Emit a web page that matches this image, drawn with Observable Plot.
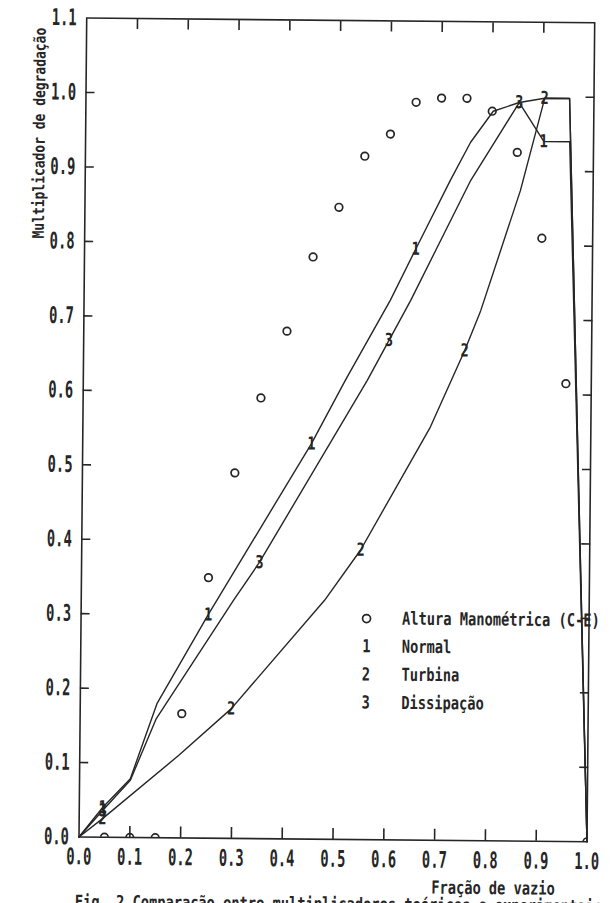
<!DOCTYPE html>
<html><head><meta charset="utf-8">
<script src="https://cdn.jsdelivr.net/npm/d3@7"></script>
<script src="https://cdn.jsdelivr.net/npm/@observablehq/plot@0.6"></script>
<style>
html,body{margin:0;padding:0;background:#fff;overflow:hidden;}
#chart{width:615px;height:903px;overflow:hidden;background:#fff;}
</style></head><body><div id="chart"></div>
<script>
// ---------- data ----------
const xTicks = [0.0, 0.1, 0.2, 0.3, 0.4, 0.5, 0.6, 0.7, 0.8, 0.9, 1.0];
const yTicks = [0.0, 0.1, 0.2, 0.3, 0.4, 0.5, 0.6, 0.7, 0.8, 0.9, 1.0, 1.1];

// Altura Manométrica (C-E) – open circles
const circleX = [0.05, 0.10, 0.15, 0.20, 0.25, 0.30, 0.35, 0.40, 0.45, 0.50, 0.55, 0.60, 0.65, 0.70, 0.75, 0.80, 0.85, 0.90, 0.95, 1.00];
const circleY = [0.0, 0.0, 0.0, 0.167, 0.350, 0.491, 0.592, 0.682, 0.782, 0.849, 0.918, 0.948, 0.991, 0.997, 0.997, 0.980, 0.925, 0.810, 0.615, 0.0];

// Curve 1 – Normal
const normalX = [0, 0.046, 0.100, 0.151, 0.250, 0.450, 0.516, 0.603, 0.652, 0.719, 0.758, 0.802, 0.853, 0.902, 0.953, 1.0];
const normalY = [0, 0.040, 0.079, 0.180, 0.300, 0.531, 0.617, 0.725, 0.794, 0.887, 0.938, 0.980, 0.992, 0.940, 0.940, 0.0];
// Curve 2 – Turbina
const turbinaX = [0, 0.046, 0.195, 0.297, 0.479, 0.549, 0.684, 0.750, 0.781, 0.857, 0.903, 0.952, 1.0];
const turbinaY = [0, 0.025, 0.111, 0.174, 0.321, 0.389, 0.555, 0.658, 0.712, 0.874, 0.998, 0.998, 0.0];
// Curve 3 – Dissipação
const dissipX = [0, 0.046, 0.100, 0.150, 0.300, 0.350, 0.559, 0.601, 0.643, 0.759, 0.853, 0.903, 0.952, 1.0];
const dissipY = [0, 0.036, 0.077, 0.160, 0.320, 0.371, 0.617, 0.671, 0.725, 0.887, 0.992, 0.998, 0.998, 0.0];

// numbered markers on the curves
const normalMarkX = [0.046, 0.250, 0.450, 0.652, 0.902];
const normalMarkY = [0.040, 0.300, 0.531, 0.794, 0.940];
const turbinaMarkX = [0.046, 0.297, 0.549, 0.750, 0.903];
const turbinaMarkY = [0.025, 0.174, 0.389, 0.658, 0.998];
const dissipMarkX = [0.046, 0.350, 0.601, 0.853];
const dissipMarkY = [0.036, 0.371, 0.671, 0.992];

const legendLabels = ["Altura Manométrica (C-E)", "Normal", "Turbina", "Dissipação"];
const legendSymbols = ["o", "1", "2", "3"];
const xLabel = "Fração de vazio";
const yLabel = "Multiplicador de degradação";
const caption = "Fig. 2 Comparação entre multiplicadores teóricos e experimentais";

// ---------- layout / style ----------
const ink = "#262626";
const font = "DejaVu Sans Mono";
const legendSymX = 0.562, legendTextX = 0.632, legendTopY = 0.297, legendStepY = 0.0377;

const zip = (xs, ys, extra) => xs.map((x, i) => ({x, y: ys[i], ...extra}));
const lines = [
  ...zip(normalX, normalY, {s: "Normal"}),
  ...zip(turbinaX, turbinaY, {s: "Turbina"}),
  ...zip(dissipX, dissipY, {s: "Dissipação"})
];
const markers = [
  ...zip(normalMarkX, normalMarkY, {t: "1"}),
  ...zip(turbinaMarkX, turbinaMarkY, {t: "2"}),
  ...zip(dissipMarkX, dissipMarkY, {t: "3"})
];
const circles = zip(circleX, circleY, {});
const legendRows = legendLabels.map((label, i) => ({label, sym: legendSymbols[i], y: legendTopY - i * legendStepY}));
const innerX = xTicks.filter(d => d > 0 && d < 1);
const innerY = yTicks.filter(d => d > 0 && d < 1.1);
const fmt = d3.format(".1f");
const txt = {fontFamily: font, fontWeight: "bold", fill: ink};

const chart = Plot.plot({
  width: 615, height: 903,
  marginLeft: 78.5, marginRight: 28.5, marginTop: 17.5, marginBottom: 66.5,
  x: {domain: [0, 1], axis: null},
  y: {domain: [0, 1.1], axis: null},
  style: {fontFamily: font, fontWeight: "bold", color: ink, background: "#fff"},
  marks: [
    Plot.frame({stroke: ink, strokeWidth: 1.6}),
    Plot.axisX({anchor: "bottom", ticks: innerX, tickSize: -11, tickFormat: () => "", label: null, strokeWidth: 1.6}),
    Plot.axisX({anchor: "top", ticks: innerX, tickSize: -10, tickFormat: () => "", label: null, strokeWidth: 1.6}),
    Plot.axisY({anchor: "left", ticks: innerY, tickSize: -9, tickFormat: () => "", label: null, strokeWidth: 1.6}),
    Plot.axisY({anchor: "right", ticks: innerY, tickSize: -9, tickFormat: () => "", label: null, strokeWidth: 1.6}),
    Plot.text(xTicks, {x: d => d, frameAnchor: "bottom", textAnchor: "middle", lineAnchor: "top", dy: 11, text: d => fmt(d), fontSize: 23, ...txt}),
    Plot.text(yTicks, {y: d => d, frameAnchor: "left", textAnchor: "end", lineAnchor: "middle", dx: -10, text: d => fmt(d), fontSize: 23, ...txt}),
    Plot.text([xLabel], {frameAnchor: "bottom-left", textAnchor: "middle", lineAnchor: "middle", dx: 414.5, dy: 47.5, text: d => d, fontSize: 18, ...txt}),
    Plot.text([yLabel], {frameAnchor: "top-left", textAnchor: "middle", lineAnchor: "middle", dx: -46, dy: 115.5, rotate: -90, text: d => d, fontSize: 16, ...txt}),
    Plot.text([caption], {frameAnchor: "bottom-left", textAnchor: "start", lineAnchor: "top", dx: -3.5, dy: 58, text: d => d, fontSize: 18, ...txt}),
    Plot.line(lines, {x: "x", y: "y", z: "s", stroke: ink, strokeWidth: 1.4, curve: "linear"}),
    Plot.dot(circles, {x: "x", y: "y", r: 3.8, stroke: ink, strokeWidth: 1.7, fill: "none", clip: true}),
    Plot.text(markers, {x: "x", y: "y", text: "t", textAnchor: "middle", lineAnchor: "middle", fontSize: 18, ...txt}),
    Plot.dot(legendRows.filter(d => d.sym === "o"), {x: () => legendSymX, y: "y", r: 4, stroke: ink, strokeWidth: 1.7, fill: "none"}),
    Plot.text(legendRows.filter(d => d.sym !== "o"), {x: () => legendSymX, y: "y", text: "sym", textAnchor: "middle", lineAnchor: "middle", fontSize: 18, ...txt}),
    Plot.text(legendRows, {x: () => legendTextX, y: "y", text: "label", textAnchor: "start", lineAnchor: "middle", fontSize: 18, ...txt})
  ]
});

document.getElementById("chart").appendChild(chart);

// narrow, tall plotter lettering: compress each text along its baseline, keeping its anchor
const sxFor = {23: 0.6, 18: 0.76, 16: 0.81};
chart.querySelectorAll("text").forEach(t => {
  if (!t.textContent) return;
  const fs = Math.round(parseFloat(getComputedStyle(t).fontSize));
  const sx = sxFor[fs];
  if (!sx) return;
  const len = t.getComputedTextLength();
  if (!(len > 0)) return;
  t.setAttribute("lengthAdjust", "spacingAndGlyphs");
  t.setAttribute("textLength", (len * sx).toFixed(2));
});

// the scanned page is slightly rotated
chart.style.transformOrigin = "78.5px 836.5px";
chart.style.transform = "rotate(0.54deg)";
</script></body></html>
